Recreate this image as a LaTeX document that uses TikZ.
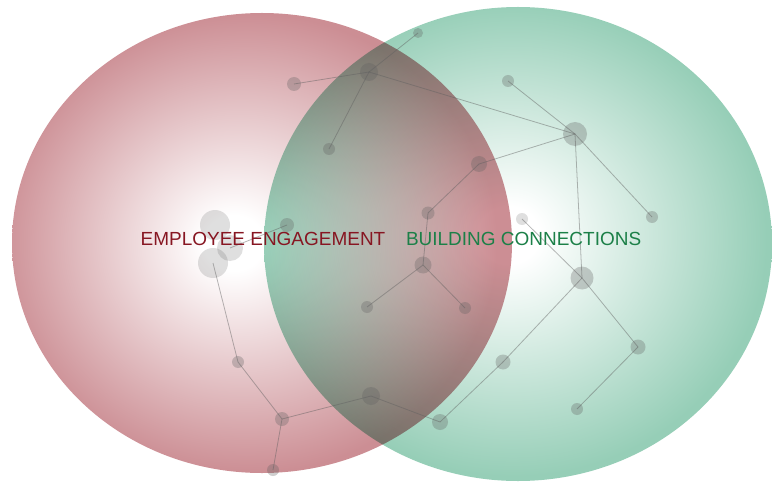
\documentclass[tikz,border=0pt]{standalone}
\usepackage{fontspec}
\setmainfont{Liberation Sans}
\usetikzlibrary{positioning}
\definecolor{vred}{RGB}{204,142,148}
\definecolor{vgreen}{RGB}{150,206,183}
\definecolor{tred}{RGB}{135,22,34}
\definecolor{tgreen}{RGB}{28,128,72}
\definecolor{cdot}{RGB}{95,95,95}
% soft glow: white core fading out to the rim
\pgfdeclareradialshading{redglow}{\pgfpoint{-3bp}{0bp}}{color(0bp)=(white); color(3bp)=(white); color(25bp)=(vred); color(50bp)=(vred)}
\pgfdeclareradialshading{greenglow}{\pgfpoint{-1bp}{1bp}}{color(0bp)=(white); color(3bp)=(white); color(25bp)=(vgreen); color(50bp)=(vgreen)}
\tikzset{
  dot/.style={circle, fill=cdot, fill opacity=0.3, inner sep=0pt, minimum size=#1*0.2mm},
  dot/.default=12,
  pale/.style={dot=#1, fill opacity=0.2},
  link/.style={draw=cdot, draw opacity=0.45, line width=0.45pt},
  caption/.style={text=#1, font=\fontsize{10.8}{13}\selectfont, inner sep=0pt},
}
\begin{document}
\begin{tikzpicture}[x=0.2mm, y=-0.2mm]
  \useasboundingbox (0,0) rectangle (772,483);
  % the two sets
  \shade[shading=redglow] (262,243) ellipse [x radius=250, y radius=230];
  \begin{scope}[blend mode=multiply]
    \shade[shading=greenglow] (518,244) ellipse [x radius=254, y radius=237];
  \end{scope}
  % network drawn over both sets
  \node[dot=10] (a) at (418,33) {};
  \node[dot=18] (b) at (369,72) {};
  \node[dot=14] (c) at (294,84) {};
  \node[dot=12] (d) at (329,149) {};
  \node[dot=12] (e) at (508,81) {};
  \node[dot=24] (f) at (575,134) {};
  \node[dot=16] (g) at (479,164) {};
  \node[dot=13] (h) at (428,213) {};
  \node[pale=12] (i) at (522,219) {};
  \node[dot=12] (k) at (652,217) {};
  \node[dot=23] (j) at (582,278) {};
  \node[dot=17] (l) at (423,265) {};
  \node[dot=12] (m) at (465,308) {};
  \node[dot=12] (p) at (367,307) {};
  \node[dot=15] (n) at (503,362) {};
  \node[dot=15] (o) at (638,347) {};
  \node[dot=16] (r) at (440,422) {};
  \node[dot=12] (s) at (577,409) {};
  \node[pale=30] (c1) at (215,225) {};
  \node[pale=26] (c2) at (230,248) {};
  \node[pale=30] (c3) at (213,263) {};
  \node[dot=14] (q0) at (287,225) {};
  \node[dot=12] (q) at (238,362) {};
  \node[dot=14] (t) at (282,419) {};
  \node[dot=18] (u) at (371,396) {};
  \node[dot=12] (v) at (273,470) {};
  \foreach \from/\to in {a/b, b/c, b/d, b/f, e/f, f/g, f/j, f/k, g/h, h/l, l/m, l/p,
      i/j, j/n, j/o, n/r, o/s, c2/q0, c3/q, q/t, t/u, u/r, t/v}
    \draw[link] (\from.center) -- (\to.center);
  % set names
  \node[caption=tred] (engage) at (263,239) {EMPLOYEE ENGAGEMENT};
  \node[caption=tgreen, right=20 of engage] (connect) {BUILDING CONNECTIONS};
\end{tikzpicture}
\end{document}
